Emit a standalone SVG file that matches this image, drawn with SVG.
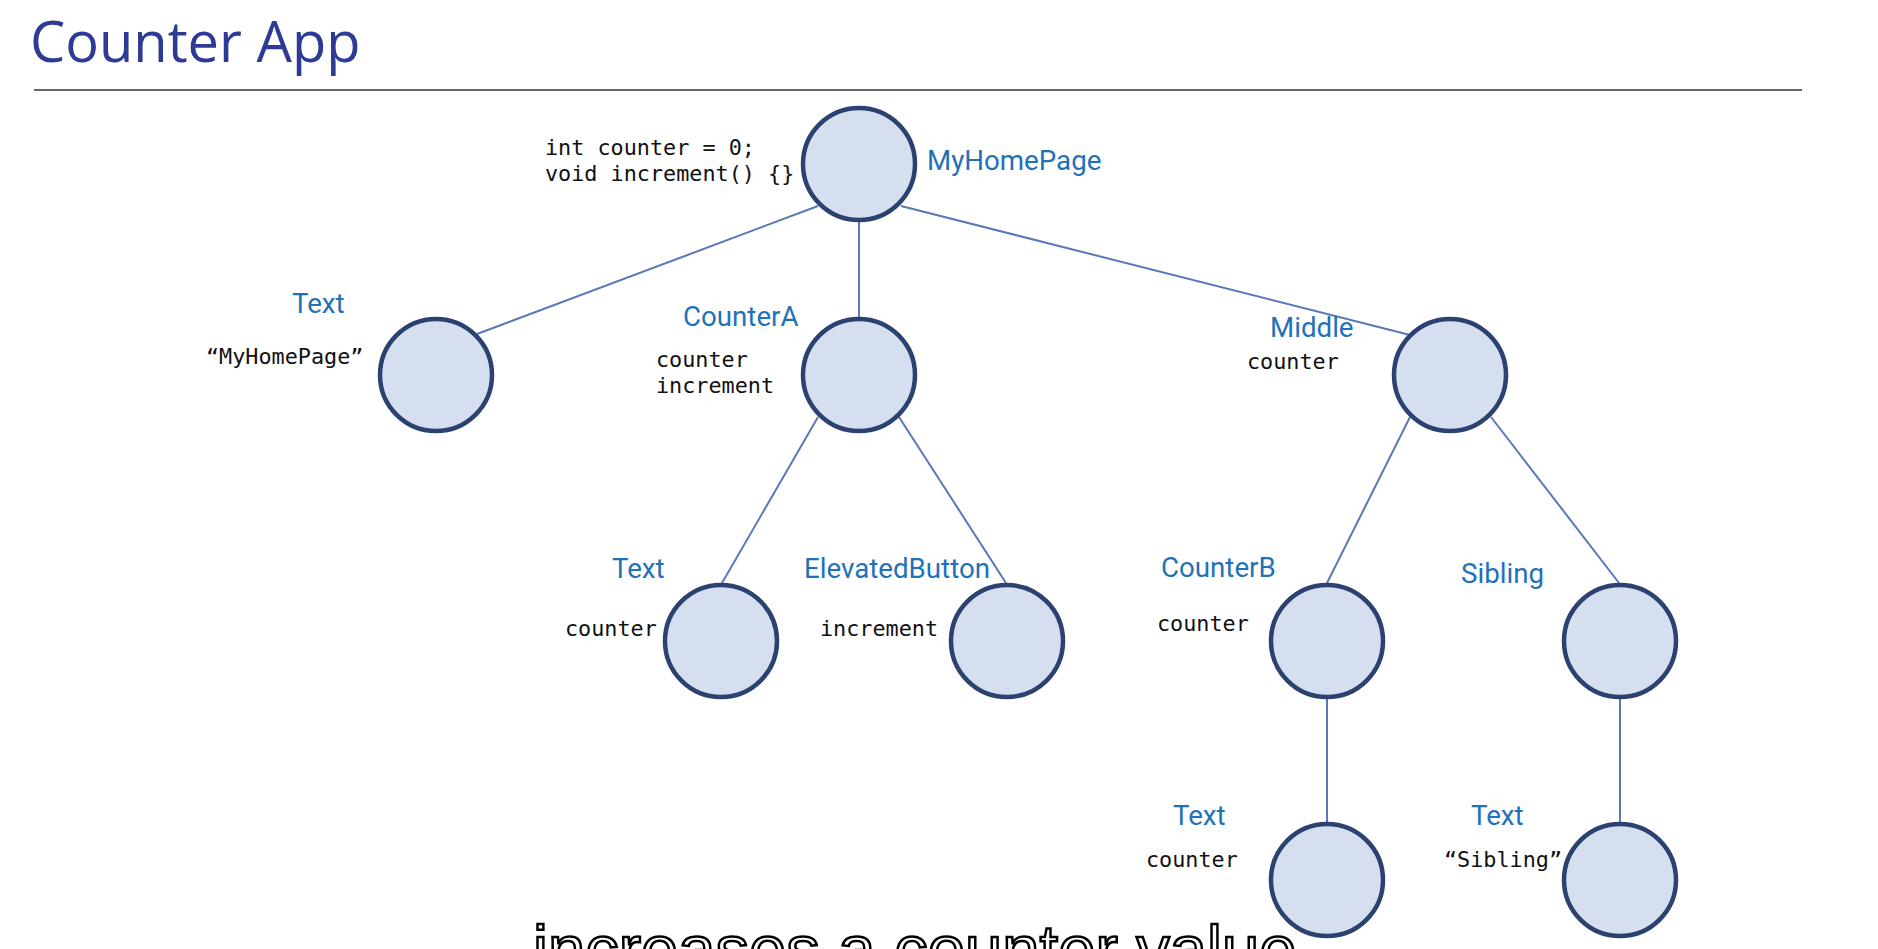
<svg xmlns="http://www.w3.org/2000/svg" width="1878" height="949" viewBox="0 0 1878 949">
<style>
.title{font-family:"Open Sans","Liberation Sans",sans-serif;font-size:56px;fill:#2e3b96}
.lbl{font-family:Roboto,"Liberation Sans",sans-serif;font-size:27.7px;fill:#1f72b8}
.code{font-family:"DejaVu Sans Mono","Liberation Mono",monospace;font-size:21.8px;fill:#111}
.node{fill:#d5dff0;stroke:#2b4170;stroke-width:4.5}
.edge{stroke:#5a78b8;stroke-width:2;fill:none}
.sub{font-family:"Liberation Sans",Arial,sans-serif;font-size:67px;fill:#fff;stroke:#000;stroke-width:2.5}
</style>
<rect width="1878" height="949" fill="#fff"/>
<text class="title" x="30" y="62">Counter App</text>
<line x1="34" y1="90" x2="1802" y2="90" stroke="#666" stroke-width="2"/>
<g id="connectors">
<line class="edge" x1="818" y1="206" x2="477" y2="334"/>
<line class="edge" x1="859" y1="222" x2="859" y2="317"/>
<line class="edge" x1="901" y1="206" x2="1410" y2="335"/>
<line class="edge" x1="818" y1="417" x2="722" y2="583"/>
<line class="edge" x1="899" y1="417" x2="1006" y2="583"/>
<line class="edge" x1="1410" y1="417" x2="1327" y2="583"/>
<line class="edge" x1="1491" y1="417" x2="1619" y2="583"/>
<line class="edge" x1="1327" y1="698" x2="1327" y2="823"/>
<line class="edge" x1="1620" y1="698" x2="1620" y2="823"/>
</g>
<g id="myhomepage">
<circle class="node" cx="859" cy="164" r="56"/>
<text class="lbl" x="927" y="170">MyHomePage</text>
<text class="code" x="545" y="155">int counter = 0;</text>
<text class="code" x="545" y="181">void increment() {}</text>
</g>
<g id="text-title">
<circle class="node" cx="436" cy="375" r="56"/>
<text class="lbl" x="292" y="313">Text</text>
<text class="code" x="206" y="364">“MyHomePage”</text>
</g>
<g id="counterA">
<circle class="node" cx="859" cy="375" r="56"/>
<text class="lbl" x="683" y="326">CounterA</text>
<text class="code" x="656" y="367">counter</text>
<text class="code" x="656" y="393">increment</text>
</g>
<g id="middle">
<circle class="node" cx="1450" cy="375" r="56"/>
<text class="lbl" x="1270" y="337">Middle</text>
<text class="code" x="1247" y="369">counter</text>
</g>
<g id="text-a">
<circle class="node" cx="721" cy="641" r="56"/>
<text class="lbl" x="612" y="578">Text</text>
<text class="code" x="565" y="636">counter</text>
</g>
<g id="elevatedbutton">
<circle class="node" cx="1007" cy="641" r="56"/>
<text class="lbl" x="804" y="578">ElevatedButton</text>
<text class="code" x="820" y="636">increment</text>
</g>
<g id="counterB">
<circle class="node" cx="1327" cy="641" r="56"/>
<text class="lbl" x="1161" y="577">CounterB</text>
<text class="code" x="1157" y="631">counter</text>
</g>
<g id="sibling">
<circle class="node" cx="1620" cy="641" r="56"/>
<text class="lbl" x="1461" y="583">Sibling</text>
</g>
<g id="text-b">
<circle class="node" cx="1327" cy="880" r="56"/>
<text class="lbl" x="1173" y="825">Text</text>
<text class="code" x="1146" y="867">counter</text>
</g>
<g id="text-sibling">
<circle class="node" cx="1620" cy="880" r="56"/>
<text class="lbl" x="1471" y="825">Text</text>
<text class="code" x="1444" y="867">“Sibling”</text>
</g>
<text class="sub" x="533" y="972">increases a counter value</text>
</svg>
